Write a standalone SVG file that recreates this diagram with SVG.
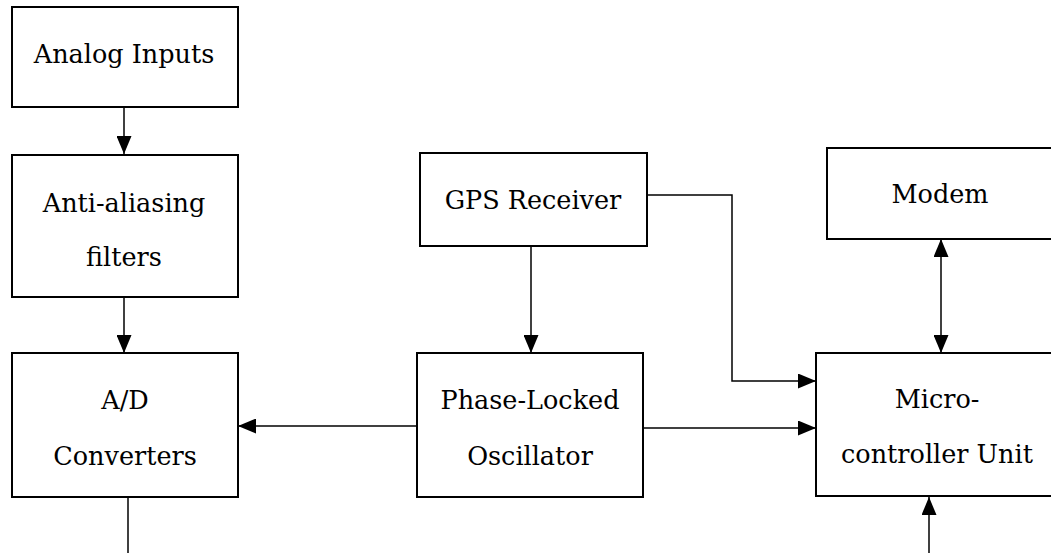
<svg xmlns="http://www.w3.org/2000/svg" width="1051" height="553" viewBox="0 0 1051 553">
  <style>
    .box { fill: #fff; stroke: #000; stroke-width: 2; }
    .lbl { font-family: "DejaVu Serif", "Liberation Serif", serif; font-size: 25.5px; fill: #000; text-anchor: middle; }
    .wire { fill: none; stroke: #000; stroke-width: 1.5; }
  </style>
  <defs>
    <marker id="head" viewBox="0 0 18 15" refX="18" refY="7.5" markerWidth="18" markerHeight="15" markerUnits="userSpaceOnUse" orient="auto-start-reverse">
      <path d="M0,0 L18,7.5 L0,15 Z" fill="#000"/>
    </marker>
  </defs>
  <rect width="1051" height="553" fill="#fff"/>

  <g id="connectors">
    <line class="wire" x1="124" y1="107" x2="124" y2="154" marker-end="url(#head)"/>
    <line class="wire" x1="124" y1="297" x2="124" y2="353" marker-end="url(#head)"/>
    <line class="wire" x1="128" y1="497" x2="128" y2="553"/>
    <line class="wire" x1="531" y1="246" x2="531" y2="353" marker-end="url(#head)"/>
    <polyline class="wire" points="647,195 732,195 732,381 816,381" marker-end="url(#head)"/>
    <line class="wire" x1="417" y1="426" x2="238" y2="426" marker-end="url(#head)"/>
    <line class="wire" x1="643" y1="428" x2="816" y2="428" marker-end="url(#head)"/>
    <line class="wire" x1="941" y1="239" x2="941" y2="353" marker-start="url(#head)" marker-end="url(#head)"/>
    <line class="wire" x1="929" y1="553" x2="929" y2="497" marker-end="url(#head)"/>
  </g>

  <g id="analog-inputs">
    <rect class="box" x="12" y="7" width="226" height="100"/>
    <text class="lbl" x="124" y="63">Analog Inputs</text>
  </g>
  <g id="anti-aliasing">
    <rect class="box" x="12" y="155" width="226" height="142"/>
    <text class="lbl" x="124" y="212">Anti-aliasing</text>
    <text class="lbl" x="124" y="266">filters</text>
  </g>
  <g id="ad-converters">
    <rect class="box" x="12" y="353" width="226" height="144"/>
    <text class="lbl" x="125" y="409">A/D</text>
    <text class="lbl" x="125" y="465">Converters</text>
  </g>
  <g id="gps-receiver">
    <rect class="box" x="420" y="153" width="227" height="93"/>
    <text class="lbl" x="533" y="209">GPS Receiver</text>
  </g>
  <g id="pll-oscillator">
    <rect class="box" x="417" y="353" width="226" height="144"/>
    <text class="lbl" x="530" y="409">Phase-Locked</text>
    <text class="lbl" x="530" y="465">Oscillator</text>
  </g>
  <g id="modem">
    <rect class="box" x="827" y="148" width="240" height="91"/>
    <text class="lbl" x="940" y="203">Modem</text>
  </g>
  <g id="mcu">
    <rect class="box" x="816" y="353" width="250" height="143"/>
    <text class="lbl" x="937" y="408">Micro-</text>
    <text class="lbl" x="937" y="463">controller Unit</text>
  </g>
</svg>
